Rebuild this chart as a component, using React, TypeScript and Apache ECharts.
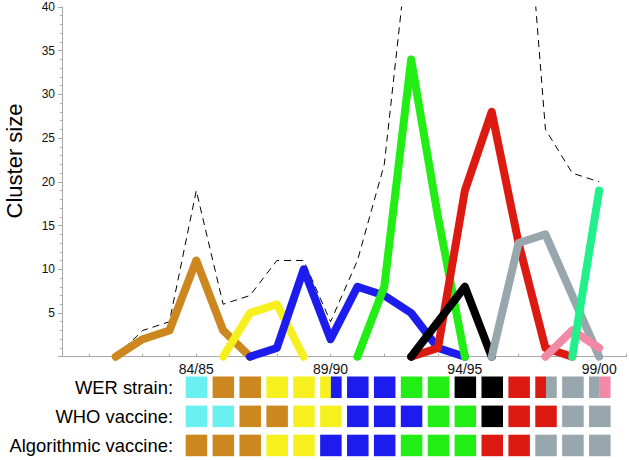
import React, { useEffect, useRef } from "react";
import * as echarts from "echarts";

// ---- data ----
const xTickSeasons = [1984, 1989, 1994, 1999];
const xTickLabels = ["84/85", "89/90", "94/95", "99/00"];
const yTickLabels = ["5", "10", "15", "20", "25", "30", "35", "40"];

// cluster sizes per season (start season + consecutive values)
const totalStart = 1981;
const totalValues = [0, 3, 4, 19, 6, 7, 11, 11, 4, 11, 22, 50, 55, 60, 62, 65, 26, 21, 20];
const brownStart = 1981;
const brownValues = [0, 2, 3, 11, 3, 0];
const yellowStart = 1985;
const yellowValues = [0, 5, 6, 0];
const blueStart = 1986;
const blueValues = [0, 1, 10, 2, 8, 7, 5, 1, 0];
const greenStart = 1990;
const greenValues = [0, 8, 34, 16, 0];
const redStart = 1992;
const redValues = [0, 1, 19, 28, 13, 1, 0];
const blackStart = 1992;
const blackValues = [0, 4, 8, 0];
const grayStart = 1995;
const grayValues = [0, 13, 14, 7, 0];
const pinkStart = 1997;
const pinkValues = [0, 3, 1];
const springStart = 1998;
const springValues = [0, 19];

// cell rows
const rowNames = ["WER strain:", "WHO vaccine:", "Algorithmic vaccine:"];
const cellSeasons = [1984, 1985, 1986, 1987, 1988, 1989, 1990, 1991, 1992, 1993, 1994, 1995, 1996, 1997, 1998, 1999];
const werRow = ["cyan", "brown", "brown", "yellow", "yellow", "yellow|blue", "blue", "blue", "green", "green", "black", "black", "red", "red|gray", "gray", "gray|pink"];
const whoRow = ["cyan", "cyan", "brown", "brown", "yellow", "yellow", "blue", "blue", "blue", "green", "green", "black", "red", "red", "gray", "gray"];
const algRow = ["brown", "brown", "brown", "yellow", "yellow", "blue", "blue", "blue", "green", "green", "green", "red", "red", "gray", "gray", "gray"];

const COLORS: Record<string, string> = {
  cyan: "#6af0f0",
  brown: "#cc871f",
  yellow: "#f6f01e",
  blue: "#1c1cee",
  green: "#22ee16",
  black: "#000000",
  red: "#dd1a12",
  gray: "#98a6ad",
  pink: "#f28aa6",
  spring: "#22f08a",
};

const FONT = "'Liberation Sans', Arial, Helvetica, sans-serif";

function toPairs(start: number, values: number[]) {
  return values.map((v, i) => [start + i, v]);
}

export default function App() {
  const ref = useRef<HTMLDivElement>(null);
  useEffect(() => {
    if (!ref.current) return;
    const chart = echarts.init(ref.current, undefined, { renderer: "svg" });

    const clusterSeries = [
      ["brown", brownStart, brownValues],
      ["yellow", yellowStart, yellowValues],
      ["blue", blueStart, blueValues],
      ["green", greenStart, greenValues],
      ["red", redStart, redValues],
      ["black", blackStart, blackValues],
      ["gray", grayStart, grayValues],
      ["pink", pinkStart, pinkValues],
      ["spring", springStart, springValues],
    ].map(([c, s, v]: any) => ({
      type: "line",
      xAxisIndex: 0,
      yAxisIndex: 0,
      data: toPairs(s, v),
      showSymbol: false,
      symbol: "none",
      clip: false,
      lineStyle: { color: COLORS[c], width: 8, cap: "round", join: "round" },
      z: 3,
    }));

    const rows = [werRow, whoRow, algRow];
    const cellKeys: string[] = [];
    const cellData: any[] = [];
    rows.forEach((row, r) => {
      row.forEach((k, i) => {
        cellKeys.push(k);
        cellData.push([cellSeasons[i], r]);
      });
    });

    const option: any = {
      animation: false,
      textStyle: { fontFamily: FONT },
      grid: [
        { left: 62, right: 2.3, top: 7, bottom: 103.3 },
        { left: 62, right: 2.3, top: 372.7, height: 88.8 },
      ],
      xAxis: [
        {
          type: "value",
          gridIndex: 0,
          min: 1979,
          max: 2000,
          interval: 1,
          axisLine: { show: true, lineStyle: { color: "#a8a8a8", width: 1 } },
          axisTick: { show: true, inside: true, length: 3, lineStyle: { color: "#a8a8a8" } },
          splitLine: { show: false },
          axisLabel: {
            fontSize: 14,
            color: "#111",
            margin: 5,
            fontFamily: FONT,
            formatter: (v: number) => {
              const i = xTickSeasons.indexOf(v);
              return i >= 0 ? xTickLabels[i] : "";
            },
          },
        },
        { type: "value", gridIndex: 1, min: 1979, max: 2000, show: false },
      ],
      yAxis: [
        {
          type: "value",
          gridIndex: 0,
          min: 0,
          max: 40,
          interval: 5,
          axisLine: { show: true, lineStyle: { color: "#a8a8a8", width: 1 } },
          axisTick: { show: true, length: 4, lineStyle: { color: "#a8a8a8" } },
          minorTick: { show: true, splitNumber: 5, length: 2, lineStyle: { color: "#a8a8a8" } },
          splitLine: { show: false },
          axisLabel: {
            fontSize: 12,
            color: "#111",
            margin: 7,
            fontFamily: FONT,
            formatter: (v: number) => (v === 0 ? "" : yTickLabels[v / 5 - 1]),
          },
        },
        {
          type: "category",
          gridIndex: 1,
          data: rowNames,
          inverse: true,
          offset: -112,
          axisLine: { show: false },
          axisTick: { show: false },
          splitLine: { show: false },
          axisLabel: { fontSize: 18.4, color: "#000", margin: 1, fontFamily: FONT },
        },
      ],
      graphic: [
        {
          type: "text",
          x: 14,
          y: 161,
          rotation: Math.PI / 2,
          style: {
            text: "Cluster size",
            fontSize: 22,
            fontFamily: FONT,
            fill: "#000",
            align: "center",
            verticalAlign: "middle",
          },
        },
      ],
      series: [
        {
          type: "line",
          xAxisIndex: 0,
          yAxisIndex: 0,
          data: toPairs(totalStart, totalValues),
          showSymbol: false,
          symbol: "none",
          clip: true,
          lineStyle: { color: "#000", width: 1, type: [7, 5] },
          z: 2,
        },
        ...clusterSeries,
        {
          type: "custom",
          xAxisIndex: 1,
          yAxisIndex: 1,
          data: cellData,
          renderItem: (params: any, api: any) => {
            const x = api.value(0);
            const r = api.value(1);
            const c = api.coord([x, r]);
            const w = api.size([0.8, 0])[0];
            const key = cellKeys[params.dataIndex];
            const parts = key.split("|");
            const pw = w / parts.length;
            return {
              type: "group",
              children: parts.map((p: string, j: number) => ({
                type: "rect",
                shape: { x: c[0] - w / 2 + j * pw, y: c[1] - w / 2, width: pw, height: w },
                style: { fill: COLORS[p] },
              })),
            };
          },
        },
      ],
    };
    chart.setOption(option);
    return () => chart.dispose();
  }, []);
  return <div ref={ref} style={{ position: "absolute", left: 0, top: 0, width: 629, height: 460 }} />;
}
